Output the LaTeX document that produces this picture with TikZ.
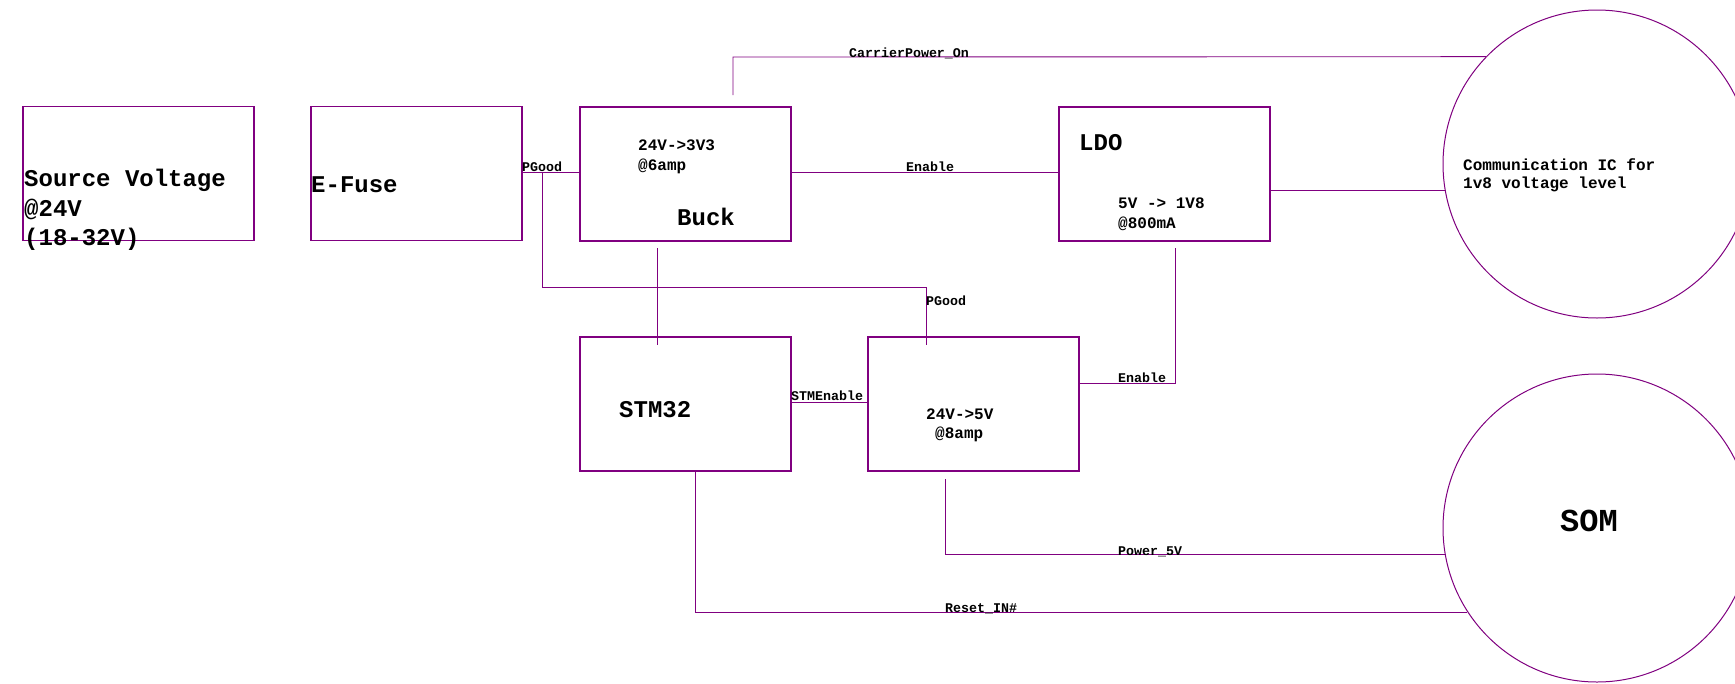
\documentclass[tikz,border=0pt]{standalone}
\usepackage{fontspec}
\newfontfamily\cour{Liberation Mono}
\definecolor{pc}{RGB}{128,0,128}
\begin{document}
\begin{tikzpicture}[x=1pt,y=-1pt,
  box/.style={draw=pc, line width=1.2pt, inner sep=0pt, minimum width=211pt, minimum height=134pt},
  ring/.style={draw=pc, line width=1pt, circle, inner sep=0pt, minimum size=308pt},
  wire/.style={draw=pc, line width=0.9pt},
  bigtext/.style={font=\cour\bfseries\fontsize{24}{28}\selectfont, inner sep=0pt, anchor=mid west},
  medtext/.style={font=\cour\bfseries\fontsize{16}{19}\selectfont, inner sep=0pt, anchor=mid west},
  lbl/.style={font=\cour\bfseries\fontsize{13.3}{15}\selectfont, inner sep=0pt, anchor=mid west},
  somtext/.style={font=\cour\bfseries\fontsize{32}{36}\selectfont, inner sep=0pt, anchor=mid west}]
\fill[white] (0,0) rectangle (1735,683);
\useasboundingbox (0,0) rectangle (1735,683);

% boxes
\node[box, minimum width=231pt] (src) at (138.5,173.5) {};
\node[box] (efuse) at (416.5,173.5) {};
\node[box] (buck) at (685.5,174) {};
\node[box] (ldo) at (1164.5,174) {};
\node[box] (stm) at (685.5,404) {};
\node[box] (v5) at (973.5,404) {};
\node[ring] (comm) at (1597,164) {};
\node[ring] (som) at (1597,528) {};

% box texts
\node[bigtext] (t1) at (24,184) {Source Voltage};
\node[bigtext] (t2) at (24,214) {@24V};
\node[bigtext] (t3) at (24,243) {(18-32V)};
\node[bigtext] (t4) at (311,190) {E-Fuse};
\node[medtext] (t5) at (638,148) {24V->3V3};
\node[medtext] (t6) at (638,168) {@6amp};
\node[bigtext] (t7) at (677,223) {Buck};
\node[bigtext] (t8) at (1079,148) {LDO};
\node[medtext] (t9) at (1118,206) {5V -> 1V8};
\node[medtext] (t10) at (1118,226) {@800mA};
\node[bigtext] (t11) at (619,415) {STM32};
\node[medtext] (t12) at (926,417) {24V->5V};
\node[medtext] (t13) at (935,436) {@8amp};
\node[medtext] (t14) at (1463,168) {Communication IC for};
\node[medtext] (t15) at (1463,186) {1v8 voltage level};
\node[somtext] (t16) at (1560,529) {SOM};

% helper coordinates
\coordinate (pgA) at (542,172);
\coordinate (pgB) at (926,287);
\coordinate (pgC) at (926,345);
\coordinate (bkA) at (657,248);
\coordinate (bkB) at (657,345);
\coordinate (cpA) at (733,95);
\coordinate (cpB) at (733,57);
\coordinate (enA) at (1175,248);
\coordinate (enB) at (1175,383);
\coordinate (p5A) at (945,479);
\coordinate (rsA) at (695,471);

% connectors
\draw[wire] (efuse.east |- pgA) -- (buck.west |- pgA);
\draw[wire] (pgA) |- (pgB) -- (pgC);
\draw[wire] (bkA) -- (bkB);
\draw[wire] (cpA) -- (cpB) -- (comm.136);
\draw[wire] (buck.east |- pgA) -- (ldo.west |- pgA);
\draw[wire] (ldo.east |- comm.190) -- (comm.190);
\draw[wire] (stm.east |- 0,402) -- (v5.west |- 0,402);
\draw[wire] (v5.east |- enB) -- (enB) -- (enA);
\draw[wire] (p5A) |- (som.190);
\draw[wire] (rsA) |- (som.213.5);

% connector labels
\node[lbl] (l1) at (522,169) {PGood};
\node[lbl] (l2) at (849,55) {CarrierPower\_On};
\node[lbl] (l3) at (906,169) {Enable};
\node[lbl] (l4) at (926,303) {PGood};
\node[lbl] (l5) at (791,398) {STMEnable};
\node[lbl] (l6) at (1118,380) {Enable};
\node[lbl] (l7) at (1118,553) {Power\_5V};
\node[lbl] (l8) at (945,610) {Reset\_IN\#};
\end{tikzpicture}
\end{document}
